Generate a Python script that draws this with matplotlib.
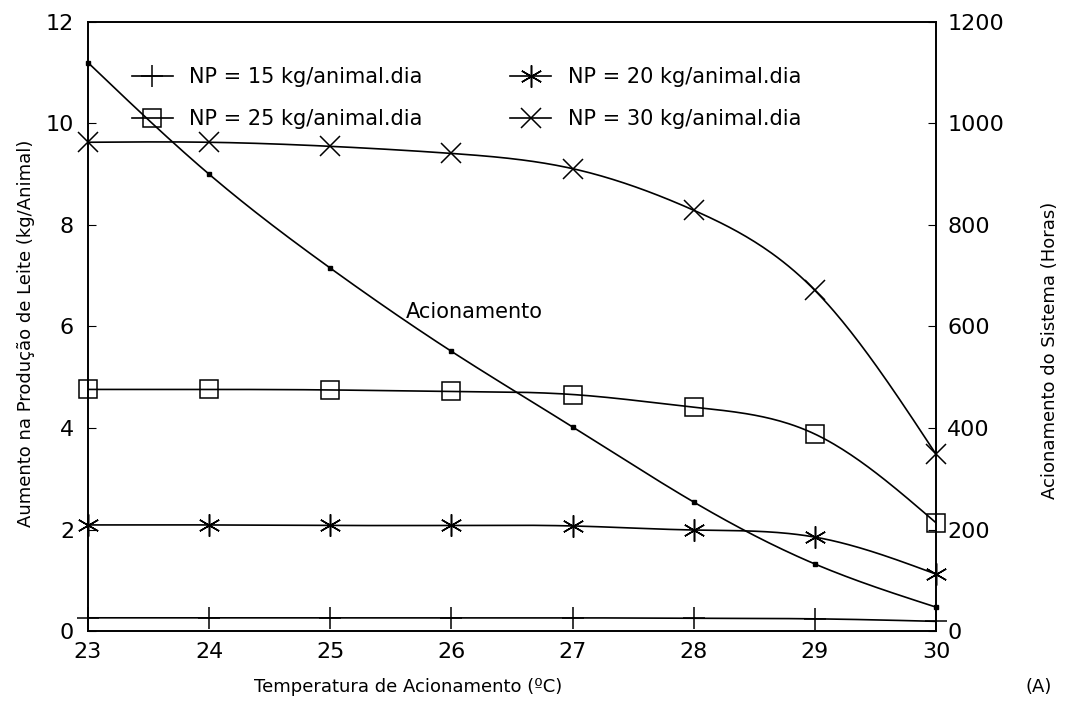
import matplotlib
matplotlib.use('Agg')
import matplotlib.pyplot as plt
import numpy as np

plt.rcParams['font.family'] = ['DejaVu Sans']

# --- data ---
temps = [23, 24, 25, 26, 27, 28, 29, 30]
np15 = [0.26, 0.26, 0.26, 0.26, 0.26, 0.25, 0.24, 0.19]
np20 = [2.09, 2.09, 2.08, 2.08, 2.07, 1.99, 1.85, 1.12]
np25 = [4.76, 4.76, 4.75, 4.72, 4.66, 4.41, 3.88, 2.13]
np30 = [9.63, 9.63, 9.55, 9.41, 9.11, 8.29, 6.71, 3.48]
horas = [1120, 900, 715, 551, 402, 254, 132, 47]

x_ticks = [23, 24, 25, 26, 27, 28, 29, 30]
left_ticks = [0, 2, 4, 6, 8, 10, 12]
right_ticks = [0, 200, 400, 600, 800, 1000, 1200]


def smooth(x, y, n=300):
    # natural cubic spline through the points
    x = np.asarray(x, float)
    y = np.asarray(y, float)
    k = len(x)
    h = np.diff(x)
    A = np.zeros((k, k))
    b = np.zeros(k)
    A[0, 0] = A[-1, -1] = 1
    for i in range(1, k - 1):
        A[i, i - 1] = h[i - 1]
        A[i, i] = 2 * (h[i - 1] + h[i])
        A[i, i + 1] = h[i]
        b[i] = 6 * ((y[i + 1] - y[i]) / h[i] - (y[i] - y[i - 1]) / h[i - 1])
    M = np.linalg.solve(A, b)
    xs = np.linspace(x[0], x[-1], n)
    j = np.clip(np.searchsorted(x, xs) - 1, 0, k - 2)
    t0 = x[j + 1] - xs
    t1 = xs - x[j]
    hj = h[j]
    ys = (M[j] * t0 ** 3 + M[j + 1] * t1 ** 3) / (6 * hj) \
        + (y[j] / hj - M[j] * hj / 6) * t0 + (y[j + 1] / hj - M[j + 1] * hj / 6) * t1
    return xs, ys


fig = plt.figure(figsize=(10.65, 7.16), dpi=100)
ax = fig.add_axes([0.0826, 0.1187, 0.7964, 0.8506])
ax2 = ax.twinx()

lw = 1.2
series = [
    (np15, '+', 16, 'NP = 15 kg/animal.dia', 'black'),
    (np20, (6, 2, 0), 16, 'NP = 20 kg/animal.dia', 'black'),
    (np25, 's', 13, 'NP = 25 kg/animal.dia', 'none'),
    (np30, 'x', 14, 'NP = 30 kg/animal.dia', 'black'),
]
handles = {}
for vals, mk, ms, lab, fc in series:
    xs, ys = smooth(temps, vals)
    ax.plot(xs, ys, color='black', lw=lw)
    ax.plot(temps, vals, ls='none', marker=mk, ms=ms, mfc=fc, mec='black',
            mew=1.1, clip_on=False, zorder=5)
    h, = ax.plot([], [], color='black', lw=lw, marker=mk, ms=ms, mfc=fc,
                 mec='black', mew=1.1, label=lab)
    handles[lab] = h

xs, ys = smooth(temps, horas)
ax2.plot(xs, ys, color='black', lw=lw)
ax2.plot(temps, horas, ls='none', marker='s', ms=3.5, color='black',
         clip_on=False, zorder=5)

order = ['NP = 15 kg/animal.dia', 'NP = 25 kg/animal.dia',
         'NP = 20 kg/animal.dia', 'NP = 30 kg/animal.dia']
ax.legend([handles[k] for k in order], order, ncol=2, frameon=False,
          loc='upper left', bbox_to_anchor=(0.03, 0.957), fontsize=15,
          handlelength=1.95, handletextpad=0.8, columnspacing=4.2,
          labelspacing=1.05)

ax.set_xlim(23, 30)
ax.set_ylim(0, 12)
ax2.set_ylim(0, 1200)
ax.set_xticks(x_ticks)
ax.set_yticks(left_ticks)
ax2.set_yticks(right_ticks)
ax.tick_params(axis='x', length=0, labelsize=16, pad=8)
ax.tick_params(axis='y', direction='in', length=6, labelsize=16, pad=10)
ax2.tick_params(axis='y', direction='in', length=6, labelsize=16, pad=8)

for sp in list(ax.spines.values()) + list(ax2.spines.values()):
    sp.set_linewidth(1.2)

ax.text(25.62, 6.28, 'Acionamento', fontsize=15, va='center')

fig.text(0.383, 0.04, 'Temperatura de Acionamento (ºC)', fontsize=13,
         ha='center', va='center')
fig.text(0.975, 0.04, '(A)', fontsize=13, ha='center', va='center')
fig.text(0.024, 0.535, 'Aumento na Produção de Leite (kg/Animal)', fontsize=13,
         rotation=90, ha='center', va='center')
fig.text(0.986, 0.51, 'Acionamento do Sistema (Horas)', fontsize=13,
         rotation=90, ha='center', va='center')

fig.savefig('out.png', dpi=100)
